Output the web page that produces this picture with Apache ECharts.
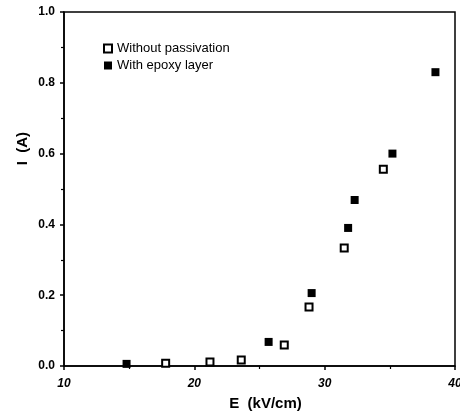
<!DOCTYPE html>
<html>
<head>
<meta charset="utf-8">
<script src="https://cdn.jsdelivr.net/npm/echarts@6/dist/echarts.min.js"></script>
<style>html,body{margin:0;padding:0;background:#fff}#c{width:460px;height:414px}</style>
</head>
<body>
<div id="c"></div>
<script>
const seriesNames = ['Without passivation', 'With epoxy layer'];
const withoutE = [17.8, 21.2, 23.6, 26.9, 28.8, 31.5, 34.5];
const withoutI = [0.008, 0.011, 0.017, 0.059, 0.167, 0.333, 0.556];
const epoxyE = [14.8, 25.7, 29.0, 31.8, 32.3, 35.2, 38.5];
const epoxyI = [0.006, 0.068, 0.206, 0.39, 0.469, 0.60, 0.83];
const xTicks = [10, 20, 30, 40];
const yTicks = [0.0, 0.2, 0.4, 0.6, 0.8, 1.0];

const pairs = (xs, ys) => xs.map((x, i) => [x, ys[i]]);
const font = 'Liberation Sans, Arial, Helvetica, sans-serif';

const chart = echarts.init(document.getElementById('c'), null, {renderer: 'canvas'});
chart.setOption({
  animation: false,
  backgroundColor: '#fff',
  grid: {left: 64, right: 5, top: 12, bottom: 48, outerBoundsMode: 'none', containLabel: false,
    show: true, borderColor: '#000', borderWidth: 1.5, backgroundColor: 'transparent'},
  legend: {
    orient: 'vertical', left: 98, top: 37, itemWidth: 8, itemHeight: 8, itemGap: 4,
    textStyle: {fontFamily: font, fontSize: 13, color: '#000'},
    data: seriesNames.map(n => ({name: n, icon: 'rect'}))
  },
  xAxis: {
    type: 'value', min: xTicks[0], max: xTicks[xTicks.length - 1], interval: 10,
    name: 'E  (kV/cm)', nameLocation: 'middle', nameGap: 30,
    nameTextStyle: {fontFamily: font, fontSize: 15, fontWeight: 'bold', color: '#000', padding: [0, 0, 0, 12]},
    axisLine: {lineStyle: {color: '#000', width: 1.5}},
    axisTick: {show: true, inside: false, length: 4, lineStyle: {color: '#000', width: 1.5}},
    minorTick: {show: true, splitNumber: 2, length: 3, lineStyle: {color: '#000', width: 1.2}},
    axisLabel: {fontFamily: font, fontSize: 12, fontWeight: 'bold', fontStyle: 'italic', color: '#000', margin: 12},
    splitLine: {show: false}
  },
  yAxis: {
    type: 'value', min: yTicks[0], max: yTicks[yTicks.length - 1], interval: 0.2,
    axisLine: {lineStyle: {color: '#000', width: 1.5}},
    axisTick: {show: true, inside: false, length: 4, lineStyle: {color: '#000', width: 1.5}},
    minorTick: {show: true, splitNumber: 2, length: 3, lineStyle: {color: '#000', width: 1.2}},
    axisLabel: {fontFamily: font, fontSize: 12, fontWeight: 'bold', color: '#000', margin: 9,
      formatter: v => v.toFixed(1)},
    splitLine: {show: false}
  },
  graphic: [{
    type: 'text', left: 15, top: 132, rotation: Math.PI / 2,
    style: {text: 'I  (A)', fontFamily: font, fontSize: 15, fontWeight: 'bold', fill: '#000'}
  }],
  series: [
    {
      name: seriesNames[0], type: 'scatter', symbol: 'rect', symbolSize: 7,
      itemStyle: {color: '#fff', borderColor: '#000', borderWidth: 2, opacity: 1},
      data: pairs(withoutE, withoutI)
    },
    {
      name: seriesNames[1], type: 'scatter', symbol: 'rect', symbolSize: 8,
      itemStyle: {color: '#000', borderColor: '#000', borderWidth: 0, opacity: 1},
      data: pairs(epoxyE, epoxyI)
    }
  ]
});
</script>
</body>
</html>
